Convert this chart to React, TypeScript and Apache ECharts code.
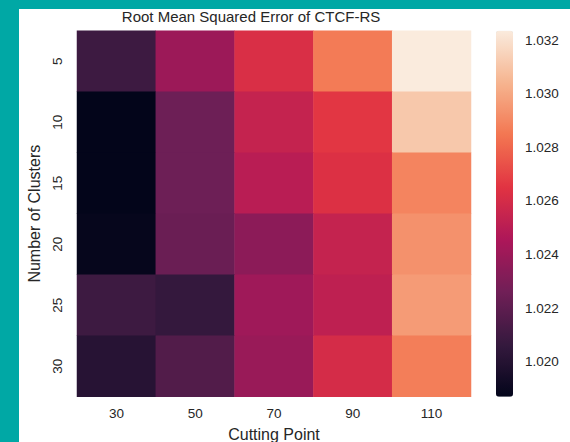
import React, { useEffect, useRef } from "react";
import * as echarts from "echarts";

const cuttingPoints = ["30", "50", "70", "90", "110"];
const clusters = ["5", "10", "15", "20", "25", "30"];
// rows follow clusters, columns follow cuttingPoints
const rmse5 = [1.0209, 1.024, 1.0262, 1.0286, 1.03235];
const rmse10 = [1.0187, 1.0225, 1.0254, 1.0266, 1.0311];
const rmse15 = [1.0187, 1.0225, 1.025, 1.0263, 1.0289];
const rmse20 = [1.0188, 1.0224, 1.0235, 1.0254, 1.0293];
const rmse25 = [1.0209, 1.0206, 1.0241, 1.0252, 1.0296];
const rmse30 = [1.0201, 1.0216, 1.0239, 1.026, 1.0287];
const colorbarTicks = [1.02, 1.022, 1.024, 1.026, 1.028, 1.03, 1.032];
const rocket = ["#03051A", "#35193E", "#701F57", "#AD1759", "#E13342", "#F37651", "#F6B48F", "#FAEBDD"];

const rows = [rmse5, rmse10, rmse15, rmse20, rmse25, rmse30];
const FONT = "Liberation Sans, Arial, sans-serif";
const TXT = "#262626";

export default function App() {
  const ref = useRef<HTMLDivElement>(null);
  useEffect(() => {
    if (!ref.current) return;
    const chart = echarts.init(ref.current, undefined, { renderer: "svg" });
    const data: number[][] = [];
    rows.forEach((r, yi) => r.forEach((v, xi) => data.push([xi, yi, v])));
    const all = rows.flat();
    const vmin = Math.min(...all);
    const vmax = Math.max(...all);
    chart.setOption({
      animation: false,
      backgroundColor: "#ffffff",
      textStyle: { fontFamily: FONT },
      graphic: [
        {
          type: "text",
          x: 232,
          y: 7,
          style: {
            text: "Root Mean Squared Error of CTCF-RS",
            fontSize: 15,
            fontFamily: FONT,
            fill: TXT,
            textAlign: "center",
            textVerticalAlign: "middle",
          },
        },
      ],
      grid: [
        { left: 58, top: 21.7, width: 394, height: 366, containLabel: false, outerBoundsMode: "none" },
        { left: 477, top: 21.7, width: 17, height: 366, containLabel: false, outerBoundsMode: "none" },
      ],
      xAxis: [
        {
          type: "category",
          gridIndex: 0,
          data: cuttingPoints,
          name: "Cutting Point",
          nameLocation: "middle",
          nameGap: 30,
          nameTextStyle: { fontSize: 16, color: TXT, fontFamily: FONT },
          axisLine: { show: false },
          axisTick: { show: false },
          axisLabel: { fontSize: 13.5, color: TXT, margin: 10, fontFamily: FONT },
          splitLine: { show: false },
        },
        { type: "value", gridIndex: 1, show: false, min: 0, max: 1 },
      ],
      yAxis: [
        {
          type: "category",
          gridIndex: 0,
          data: clusters,
          inverse: true,
          name: "Number of Clusters",
          nameLocation: "middle",
          nameGap: 34,
          nameTextStyle: { fontSize: 16, color: TXT, fontFamily: FONT },
          axisLine: { show: false },
          axisTick: { show: false },
          axisLabel: { fontSize: 13.5, color: TXT, margin: 13, rotate: 90, fontFamily: FONT },
          splitLine: { show: false },
        },
        {
          type: "value",
          gridIndex: 1,
          position: "right",
          min: vmin,
          max: vmax,
          axisLine: { show: false },
          splitLine: { show: false },
          axisTick: {
            show: true,
            customValues: colorbarTicks,
            length: 5,
            lineStyle: { color: TXT, width: 1 },
          },
          axisLabel: {
            show: true,
            customValues: colorbarTicks,
            formatter: (v: number) => v.toFixed(3),
            fontSize: 13.5,
            color: TXT,
            margin: 12,
            fontFamily: FONT,
          },
        },
      ],
      visualMap: {
        type: "continuous",
        seriesIndex: 0,
        min: vmin,
        max: vmax,
        calculable: false,
        orient: "vertical",
        left: 477,
        top: 21.7,
        itemWidth: 17,
        itemHeight: 366,
        padding: 0,
        text: undefined,
        showLabel: false,
        inRange: { color: rocket },
      },
      series: [
        {
          type: "heatmap",
          xAxisIndex: 0,
          yAxisIndex: 0,
          data,
          itemStyle: { borderWidth: 0 },
          emphasis: { disabled: true },
        },
      ],
    });
    return () => chart.dispose();
  }, []);
  return (
    <div style={{ position: "fixed", left: 0, top: 0, width: 570, height: 442, background: "#00A8A5", overflow: "hidden" }}>
      <div ref={ref} style={{ position: "absolute", left: 19, top: 9, width: 551, height: 433, background: "#ffffff" }} />
    </div>
  );
}
